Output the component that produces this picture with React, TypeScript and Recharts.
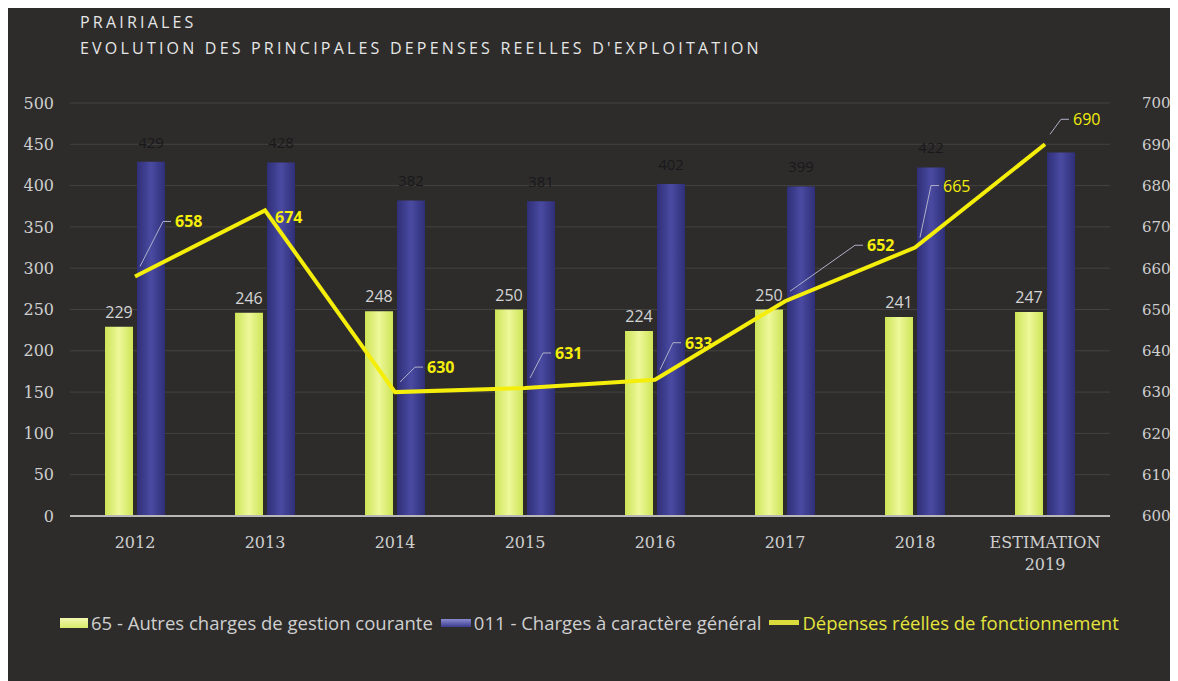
import React from "react";
import {
  ComposedChart,
  Bar,
  Line,
  XAxis,
  YAxis,
  CartesianGrid,
  LabelList,
  Legend,
} from "recharts";

const categories = ["2012", "2013", "2014", "2015", "2016", "2017", "2018", "ESTIMATION\n2019"];
const autresCharges = [229, 246, 248, 250, 224, 250, 241, 247];
const chargesGeneral = [429, 428, 382, 381, 402, 399, 422, 440];
const depensesReelles = [658, 674, 630, 631, 633, 652, 665, 690];
const leftTicks = [0, 50, 100, 150, 200, 250, 300, 350, 400, 450, 500];
const rightTicks = [600, 610, 620, 630, 640, 650, 660, 670, 680, 690, 700];

// label placement (layout only): text offset from the point, leader line, bold
const lineLabelLayout: [number, number, boolean, boolean][] = [
  [40, -55, true, true],
  [10, 7, false, true],
  [32, -25, true, true],
  [30, -35, true, true],
  [30, -37, true, true],
  [82, -56, true, true],
  [28, -62, true, false],
  [28, -25, true, false],
];

const data = categories.map((c, i) => ({
  name: c,
  autres: autresCharges[i],
  general: chargesGeneral[i],
  depenses: depensesReelles[i],
}));

const BG = "#2d2c2b";
const TICK_COLOR = "#cfcfcf";
const YELLOW_LINE = "#f4ee0a";

const XTick = (props: any) => {
  const { x, y, payload } = props;
  const lines = String(payload.value).split("\n");
  return (
    <g transform={`translate(${x},${y})`}>
      <text
        textAnchor="middle"
        fill={TICK_COLOR}
        fontFamily="'DejaVu Serif', serif"
        fontSize={16}
      >
        {lines.map((l, i) => (
          <tspan key={i} x={0} dy={i === 0 ? 16 : 22}>
            {l}
          </tspan>
        ))}
      </text>
    </g>
  );
};

const LineLabel = (props: any) => {
  const { x, y, value, index } = props;
  const [dx, dy, leader, bold] = lineLabelLayout[index];
  const tx = x + dx;
  const ty = y + dy;
  return (
    <g>
      {leader && (
        <polyline
          points={`${x + 5},${y - 10} ${tx - 12},${ty} ${tx - 4},${ty}`}
          fill="none"
          stroke="#aeb0c8"
          strokeWidth={1}
        />
      )}
      <text
        x={tx}
        y={ty}
        dy={6}
        fill={YELLOW_LINE}
        fontFamily="'Open Sans', sans-serif"
        fontWeight={bold ? 700 : 400}
        fontSize={16}
      >
        {value}
      </text>
    </g>
  );
};

const BlueLabel = (props: any) => {
  const { x, y, width, value, index } = props;
  if (index === chargesGeneral.length - 1) return null;
  return (
    <text
      x={x + width / 2}
      y={y - 14}
      textAnchor="middle"
      fill="#19191b"
      fontFamily="'Open Sans', sans-serif"
      fontSize={15}
    >
      {value}
    </text>
  );
};

const LegendContent = () => {
  const item = (icon: React.ReactNode, label: string, color: string) => (
    <div style={{ display: "flex", alignItems: "center", marginRight: 8 }}>
      {icon}
      <span style={{ color, marginLeft: 3 }}>{label}</span>
    </div>
  );
  return (
    <div
      style={{
        display: "flex",
        alignItems: "center",
        fontFamily: "'Open Sans', sans-serif",
        fontSize: 18.5,
        paddingLeft: 40,
      }}
    >
      {item(
        <div style={{ width: 28, height: 10, background: "linear-gradient(#f2f8b0,#d8ec6a)" }} />,
        "65 - Autres charges de gestion courante",
        "#cfcfcf"
      )}
      {item(
        <div style={{ width: 30, height: 8, background: "linear-gradient(#8a8ad0,#3c3c90)" }} />,
        "011 - Charges à caractère général",
        "#cfcfcf"
      )}
      {item(
        <div style={{ width: 30, height: 5, background: "#d9dc3a" }} />,
        "Dépenses réelles de fonctionnement",
        "#e4e43c"
      )}
    </div>
  );
};

export default function App() {
  return (
    <div style={{ position: "relative", width: 1170, height: 673, background: BG }}>
      <div
        style={{
          position: "absolute",
          left: 72,
          top: 1,
          color: "#e6e6e6",
          fontFamily: "'Open Sans', sans-serif",
          fontSize: 16,
          letterSpacing: 3.2,
          lineHeight: "26px",
          zIndex: 1,
        }}
      >
        <div>PRAIRIALES</div>
        <div>EVOLUTION DES PRINCIPALES DEPENSES REELLES D'EXPLOITATION</div>
      </div>
      <ComposedChart
        width={1170}
        height={673}
        data={data}
        margin={{ top: 95, right: 8, bottom: 42, left: 12 }}
        barSize={28}
        barGap={4}
      >
        <defs>
          <linearGradient id="gYellow" x1="0" y1="0" x2="1" y2="0">
            <stop offset="0%" stopColor="#cde457" />
            <stop offset="50%" stopColor="#eef89a" />
            <stop offset="100%" stopColor="#cde457" />
          </linearGradient>
          <linearGradient id="gBlue" x1="0" y1="0" x2="1" y2="0">
            <stop offset="0%" stopColor="#2f2f78" />
            <stop offset="50%" stopColor="#4a4aa2" />
            <stop offset="100%" stopColor="#2f2f78" />
          </linearGradient>
        </defs>
        <CartesianGrid vertical={false} stroke="#444342" yAxisId="left" />
        <XAxis
          dataKey="name"
          tick={<XTick />}
          tickLine={false}
          axisLine={{ stroke: "#b8b8b8", strokeWidth: 2 }}
          interval={0}
          height={98}
          tickMargin={10}
        />
        <YAxis
          yAxisId="left"
          domain={[0, 500]}
          ticks={leftTicks}
          width={50}
          axisLine={false}
          tickLine={false}
          tickMargin={10}
          tick={{ fill: TICK_COLOR, fontSize: 16, fontFamily: "'DejaVu Serif', serif" }}
        />
        <YAxis
          yAxisId="right"
          orientation="right"
          domain={[600, 700]}
          ticks={rightTicks}
          width={60}
          axisLine={false}
          tickLine={false}
          tickMargin={26}
          tick={{ fill: TICK_COLOR, fontSize: 15, fontFamily: "'DejaVu Serif', serif" }}
        />
        <Legend verticalAlign="bottom" content={<LegendContent />} wrapperStyle={{ bottom: 46 }} />
        <Bar yAxisId="left" dataKey="autres" fill="url(#gYellow)" isAnimationActive={false}>
          <LabelList
            dataKey="autres"
            position="top"
            offset={9}
            fill="#d4d4d4"
            fontSize={16}
            fontFamily="'Open Sans', sans-serif"
          />
        </Bar>
        <Bar yAxisId="left" dataKey="general" fill="url(#gBlue)" isAnimationActive={false}>
          <LabelList dataKey="general" content={<BlueLabel />} />
        </Bar>
        <Line
          yAxisId="right"
          dataKey="depenses"
          stroke={YELLOW_LINE}
          strokeWidth={4}
          dot={false}
          isAnimationActive={false}
        >
          <LabelList dataKey="depenses" content={<LineLabel />} />
        </Line>
      </ComposedChart>
    </div>
  );
}
